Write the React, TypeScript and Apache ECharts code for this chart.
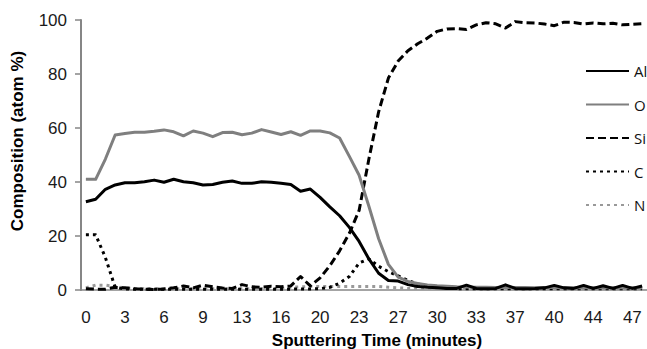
import React, { useEffect, useRef } from "react";
import * as echarts from "echarts";

// Tick labels shown every 4th measurement (sputtering time, minutes)
const xTickLabels = ["0", "3", "6", "9", "13", "16", "20", "23", "27", "30", "33", "37", "40", "44", "47"];
const pointCount = 58;
const categories: string[] = Array.from({ length: pointCount }, (_, i) =>
  i % 4 === 0 && xTickLabels[i / 4] !== undefined ? xTickLabels[i / 4] : ""
);

const alValues = [
  32.7, 33.6, 37.3, 38.9, 39.7, 39.7, 40.1, 40.7, 39.9, 41.0,
  40.1, 39.7, 38.9, 39.1, 39.9, 40.4, 39.5, 39.5, 40.1, 39.9,
  39.5, 39.1, 36.6, 37.4, 34.3, 30.8, 27.5, 23.2, 18.0, 11.5,
  6.2, 3.5, 3.3, 2.0, 1.3, 1.0, 0.8, 0.6, 0.6, 1.8,
  0.6, 0.5, 0.6, 1.9, 0.6, 0.5, 0.6, 0.8, 1.7, 0.8,
  0.6, 1.7, 0.6, 1.6, 0.6, 1.7, 0.6, 1.5,
];

const oValues = [
  41.0, 41.0, 48.5, 57.4, 58.0, 58.4, 58.4, 58.8, 59.3, 58.6,
  57.1, 58.9, 58.1, 56.8, 58.3, 58.4, 57.5, 58.1, 59.4, 58.5,
  57.6, 58.6, 57.3, 58.9, 58.9, 58.2, 56.3, 49.5, 42.5, 31.0,
  19.0, 9.5, 4.8, 3.2, 2.4, 1.9, 1.6, 1.4, 1.2, 1.1,
  1.0, 1.0, 0.9, 1.0, 0.9, 0.9, 0.8, 0.9, 0.9, 0.8,
  0.8, 0.9, 0.8, 0.8, 0.8, 0.8, 0.8, 0.8,
];

const siValues = [
  0.5, 0.3, 0.3, 1.0, 0.8, 0.5, 0.3, 0.2, 0.4, 0.8,
  1.5, 0.8, 1.8, 1.2, 0.7, 0.6, 2.0, 1.2, 1.0, 1.4,
  1.2, 1.5, 5.0, 1.5, 4.5, 9.0, 14.5, 21.0, 29.5, 48.5,
  66.0, 78.5, 84.8, 88.6, 91.2, 93.3, 95.8, 96.7, 96.8, 96.5,
  98.2, 99.0, 98.6, 97.0, 99.4, 99.0, 98.9, 98.5, 97.9, 99.2,
  99.1, 98.5, 98.9, 98.6, 98.8, 98.2, 98.4, 98.6,
];

const cValues = [
  20.5, 20.5, 12.0, 1.0, 0.4, 0.3, 0.3, 0.3, 0.3, 0.3,
  0.3, 0.3, 0.3, 0.3, 0.3, 0.3, 0.3, 0.3, 0.3, 0.3,
  0.3, 0.3, 0.4, 0.4, 0.5, 1.0, 2.5, 5.0, 10.0, 11.5,
  8.8, 6.8, 5.2, 3.6, 2.2, 1.4, 1.0, 0.7, 0.5, 0.5,
  0.5, 0.5, 0.5, 0.5, 0.5, 0.5, 0.5, 0.5, 0.5, 0.5,
  0.5, 0.5, 0.5, 0.5, 0.5, 0.5, 0.5, 0.5,
];

const nValues = [
  0.8, 1.8, 1.8, 1.2, 0.8, 0.6, 0.5, 0.5, 0.5, 0.5,
  0.5, 0.5, 0.5, 0.5, 0.5, 0.5, 0.5, 0.5, 0.5, 0.5,
  0.6, 1.0, 1.2, 1.3, 1.3, 1.3, 1.3, 1.3, 1.3, 1.3,
  1.3, 1.0, 0.8, 0.6, 0.6, 0.6, 0.6, 0.6, 0.6, 0.6,
  0.6, 0.6, 0.6, 0.6, 0.6, 0.6, 0.6, 0.6, 0.6, 0.6,
  0.6, 0.6, 0.6, 0.6, 0.6, 0.6, 0.6, 0.6,
];

const yTicks = { min: 0, max: 100, interval: 20 };

export default function App() {
  const ref = useRef<HTMLDivElement>(null);

  useEffect(() => {
    if (!ref.current) return;
    const chart = echarts.init(ref.current, undefined, { renderer: "svg" });
    const axisFont = "'Liberation Sans', Arial, sans-serif";
    const mk = (name: string, data: number[], color: string, width: number, type: any) => ({
      name,
      type: "line",
      data,
      symbol: "none",
      smooth: false,
      lineStyle: { color, width, type, cap: "butt", join: "round" },
      itemStyle: { color },
      z: 2,
    });
    chart.setOption({
      animation: false,
      backgroundColor: "#ffffff",
      grid: { left: 81, top: 20, width: 568.4, height: 270, containLabel: false },
      legend: {
        orient: "vertical",
        left: 585,
        top: 61,
        itemWidth: 43,
        itemHeight: 20,
        itemGap: 13.5,
        padding: 0,
        selectedMode: false,
        itemStyle: { opacity: 0, borderWidth: 0 },
        textStyle: {
          fontFamily: "'Open Sans', sans-serif",
          fontSize: 15,
          color: "#111",
          lineHeight: 20,
          overflow: "none",
          width: 40,
        },
        data: ["Al", "O", "Si", "C", "N"],
      },
      xAxis: {
        type: "category",
        data: categories,
        boundaryGap: true,
        axisLine: { show: true, lineStyle: { color: "#868686", width: 1.5 } },
        axisTick: { show: false },
        axisLabel: { interval: 3, fontSize: 17, color: "#1a1a1a", fontFamily: axisFont, margin: 19 },
        splitLine: { show: false },
      },
      yAxis: {
        type: "value",
        min: yTicks.min,
        max: yTicks.max,
        interval: yTicks.interval,
        axisLine: { show: true, lineStyle: { color: "#868686", width: 2 } },
        axisTick: { show: true, inside: false, length: 6, lineStyle: { color: "#868686", width: 1.5 } },
        axisLabel: { fontSize: 17, color: "#1a1a1a", fontFamily: axisFont, margin: 14 },
        splitLine: { show: false },
      },
      series: [
        mk("N", nValues, "#999999", 3, [3, 4]),
        mk("C", cValues, "#000000", 3, [3, 4]),
        mk("Si", siValues, "#000000", 3, [8, 4]),
        mk("O", oValues, "#7f7f7f", 3, "solid"),
        mk("Al", alValues, "#000000", 3, "solid"),
      ],
      graphic: [
        {
          type: "text",
          x: 17,
          y: 141,
          rotation: Math.PI / 2,
          style: {
            text: "Composition (atom %)",
            fontFamily: axisFont,
            fontWeight: "bold",
            fontSize: 17,
            fill: "#000",
            align: "center",
            verticalAlign: "middle",
          },
        },
        {
          type: "text",
          x: 377,
          y: 340,
          style: {
            text: "Sputtering Time (minutes)",
            fontFamily: axisFont,
            fontWeight: "bold",
            fontSize: 17,
            fill: "#000",
            align: "center",
            verticalAlign: "middle",
          },
        },
      ],
    });
    return () => chart.dispose();
  }, []);

  return <div ref={ref} style={{ width: 647, height: 349, position: "absolute", left: 0, top: 0 }} />;
}
